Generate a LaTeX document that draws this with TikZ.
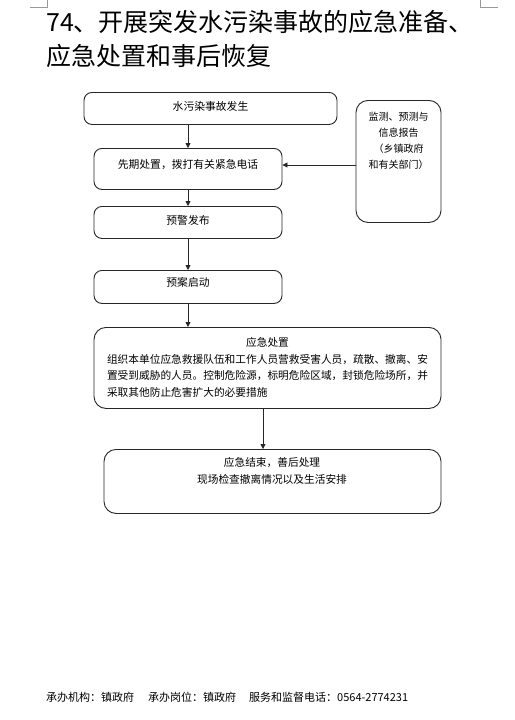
\documentclass[tikz,border=0pt]{standalone}
\usepackage{fontspec}
\setmainfont{Noto Sans CJK SC}
\usetikzlibrary{arrows.meta,calc}
\begin{document}
\begin{tikzpicture}[x=1pt,y=-1pt,
  box/.style={draw=black!85, line width=0.9pt, rounded corners=8pt, inner xsep=0pt, inner ysep=0pt, font=\fontsize{10.8}{13}\selectfont},
  bigbox/.style={draw=black!85, line width=0.9pt, rounded corners=12pt, inner sep=0pt},
  txt/.style={inner sep=0pt, font=\fontsize{10.7}{16.5}\selectfont},
  arr/.style={draw=black!85, line width=0.8pt, -{Triangle[length=5pt,width=5pt]}},
  cropmark/.style={draw=black!40, line width=0.8pt}]
\fill[white] (0,0) rectangle (514,720);
\useasboundingbox (0,0) rectangle (514,720);

\draw[cropmark] (30,7) -- (47,7) -- (47,0);
\draw[cropmark] (480,0) -- (480,7) -- (498,7);

\node[anchor=north west, inner sep=0pt, align=left, font=\fontsize{25}{34}\selectfont] (title) at (46,10.5) {74、开展突发水污染事故的应急准备、\\应急处置和事后恢复};

\node[box, anchor=north, minimum width=253pt, text height=18pt, text depth=14pt] (b1) at (210.5,92) {水污染事故发生};
\node[box, anchor=north, minimum width=188pt, text height=20pt, text depth=21pt] (b2) at (188,148) {先期处置，拨打有关紧急电话};
\node[box, anchor=north, minimum width=188pt, text height=18pt, text depth=14pt] (b3) at (188,206) {预警发布};
\node[box, anchor=north, minimum width=188pt, text height=16pt, text depth=17pt] (b4) at (188,270) {预案启动};

\node[bigbox, anchor=north, minimum width=347pt, minimum height=81pt] (b5) at (267.5,327) {};
\node[txt, anchor=north, align=left] (t5) at (267.5,337.5) {\makebox[321pt]{应急处置}\\组织本单位应急救援队伍和工作人员营救受害人员，疏散、撤离、安\\置受到威胁的人员。控制危险源，标明危险区域，封锁危险场所，并\\采取其他防止危害扩大的必要措施};

\node[bigbox, anchor=north, minimum width=337pt, minimum height=64pt] (b6) at (272.5,449) {};
\node[txt, anchor=north, align=center, font=\fontsize{10.7}{17}\selectfont] (t6) at (272,457.5) {应急结束，善后处理\\现场检查撤离情况以及生活安排};

\node[bigbox, anchor=north, minimum width=85pt, minimum height=122pt] (rb) at (398.5,100) {};
\node[inner sep=0pt, anchor=north, align=center, font=\fontsize{10}{16}\selectfont] (rt) at (398.5,112) {监测、预测与\\信息报告\\（乡镇政府\\和有关部门）};

\coordinate (b2arr) at ($(b2.north east)+(0,17)$);
\draw[arr] (b1.south -| b2.north) -- (b2.north);
\draw[arr] (b2.south) -- (b3.north);
\draw[arr] (b3.south) -- (b4.north);
\draw[arr] (b4.south) -- (b4.south |- b5.north);
\coordinate (b5out) at ($(b5.south)+(-4.5,0)$);
\draw[arr] (b5out) -- (b5out |- b6.north);
\draw[arr] (rb.west |- b2arr) -- (b2arr);

\node[anchor=base west, inner sep=0pt, font=\fontsize{11}{13}\selectfont] (foot) at (46,701) {承办机构：镇政府\hspace{14pt}承办岗位：镇政府\hspace{13pt}服务和监督电话：0564-2774231};
\end{tikzpicture}
\end{document}
